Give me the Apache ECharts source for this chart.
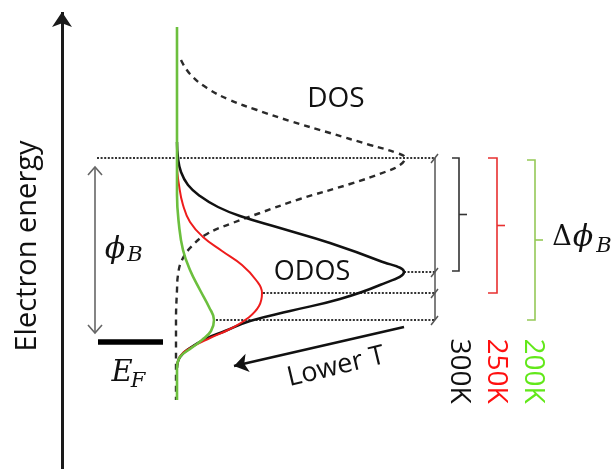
<!DOCTYPE html>
<html>
<head>
<meta charset="utf-8">
<script src="https://cdn.jsdelivr.net/npm/echarts@6/dist/echarts.min.js"></script>
<style>
  html, body { margin: 0; padding: 0; background: #fff; }
  #chart { width: 613px; height: 471px; }
</style>
</head>
<body>
<div id="chart"></div>
<script>
// Units: energy measured upward from the Fermi level (E_F = 0),
// density measured rightward from the zero-density baseline.

// Schottky barrier top (phi_B above E_F)
const barrierEnergy = 184;

// Density of states (dashed), [density, energy]
const dosCurve = [
  [4, 282], [13, 268], [30, 254], [53, 242], [80, 232], [113, 221], [153, 209],
  [193, 197], [220, 189], [228, 184], [223, 177], [208, 170], [173, 158],
  [123, 143], [83, 129], [53, 118], [30, 108], [15, 96], [5, 82], [1, 67],
  [0, 52], [-1, 22], [-1, -58]
];

// Occupied density of states at three temperatures, [density, energy]
const odos300 = [
  [0, 200], [1, 184], [4, 170], [11, 157], [23, 146], [41, 135], [63, 126],
  [103, 114], [153, 99], [203, 81], [227, 70], [203, 57], [163, 43],
  [113, 31], [73, 21], [48, 11], [28, 3], [13, -6], [3, -15], [0, -26]
];
const odos250 = [
  [0, 200], [0, 177], [2, 157], [6, 137], [13, 120], [26, 105], [45, 91],
  [65, 77], [79, 62], [85, 49], [82, 36], [71, 24], [53, 13], [33, 4],
  [15, -5], [4, -13], [0, -24]
];
const odos200 = [
  [0, 315], [0, 170], [0, 147], [2, 117], [6, 92], [13, 72], [23, 52],
  [32, 35], [37, 22], [34, 11], [25, 2], [13, -7], [3, -15], [0, -26],
  [0, -58]
];

// ODOS peak positions [density, energy] for 300K, 250K, 200K
const odosPeaks = [[227, 70], [86, 49], [39, 22]];
const temperatures = ['300K', '250K', '200K'];

const curveColors = ['#111111', '#ee1c1c', '#6cbf3e'];
const labelColors = ['#111111', '#ff1010', '#62e81a'];
const bracketColors = ['#333333', '#e83030', '#95c957'];

const connectorX = 258;          // vertical guide where the levels end
const bracketX = [[275, 282, 290], [311, 320, 328], [350, 358, 366]];

// ----- derived geometry -----
const levelLines = [{ coords: [[-80, barrierEnergy], [connectorX, barrierEnergy]] }]
  .concat(odosPeaks.map(p => ({ coords: [[p[0], p[1]], [connectorX, p[1]]] })));

const levelEnergies = [barrierEnergy].concat(odosPeaks.map(p => p[1]));
const slashes = levelEnergies.map(e => ({
  coords: [[connectorX - 4, e - 5], [connectorX + 3, e + 4]]
}));

const brackets = [];
odosPeaks.forEach((p, i) => {
  const [x0, x1, x2] = bracketX[i];
  const top = i === 2 ? barrierEnergy - 2 : barrierEnergy;
  const bot = p[1] + (i === 0 ? 1 : 0);
  const mid = (top + bot) / 2;
  brackets.push({
    coords: [[x0, top], [x1, top], [x1, bot], [x0, bot]],
    lineStyle: { color: bracketColors[i] }
  });
  brackets.push({
    coords: [[x1, mid], [x2, mid]],
    lineStyle: { color: bracketColors[i] }
  });
});

const chart = echarts.init(document.getElementById('chart'), null, { renderer: 'canvas' });

const serif = "'DejaVu Serif', 'Liberation Serif', serif";
const sans = "'Open Sans', 'Noto Sans', sans-serif";

function txt(text, x, y, size, color, opts) {
  opts = opts || {};
  return {
    type: 'text', x: x, y: y, rotation: opts.rotation || 0, silent: true, z: 20,
    style: {
      text: text, fill: color, fontSize: size,
      fontFamily: opts.family || sans,
      fontStyle: opts.italic ? 'italic' : 'normal',
      align: 'center', verticalAlign: 'middle'
    }
  };
}

const ink = '#111';
const graphics = [
  txt('Electron energy', 28, 246, 29, ink, { rotation: Math.PI / 2 }),
  txt('DOS', 336, 99, 28, ink),
  txt('ODOS', 312, 272, 27, ink),
  txt('Lower T', 336, 367, 27, ink, { rotation: 0.235 }),
  txt('ϕ', 115, 250, 30, ink, { family: serif, italic: true }),
  txt('B', 135, 256, 21, ink, { family: serif, italic: true }),
  txt('E', 122, 373, 29, ink, { family: serif, italic: true }),
  txt('F', 138, 382, 21, ink, { family: serif, italic: true }),
  txt('Δ', 562, 238, 27, ink, { family: serif }),
  txt('ϕ', 583, 238, 30, ink, { family: serif, italic: true }),
  txt('B', 604, 247, 21, ink, { family: serif, italic: true })
];
temperatures.forEach((t, i) => {
  graphics.push(txt(t, 459 + i * 37, 371, 28, labelColors[i], { rotation: -Math.PI / 2 }));
});

function curve(name, data, color, width, z, dash) {
  return {
    name: name, type: 'line', data: data, smooth: 0.45,
    showSymbol: false, silent: true, z: z,
    lineStyle: { color: color, width: width, type: dash || 'solid' }
  };
}

const option = {
  animation: false,
  grid: { left: 0, right: 0, top: 0, bottom: 0 },
  xAxis: { type: 'value', min: -177, max: 436, show: false },
  yAxis: { type: 'value', min: -129, max: 342, show: false },
  graphic: graphics,
  series: [
    {
      name: 'levels', type: 'lines', coordinateSystem: 'cartesian2d', silent: true, z: 1,
      lineStyle: { color: '#333', width: 2.2, type: [2, 1.6], opacity: 1 },
      data: levelLines
    },
    {
      name: 'connector', type: 'lines', coordinateSystem: 'cartesian2d', silent: true, z: 2,
      lineStyle: { color: '#555', width: 1.5, opacity: 1 },
      data: [{ coords: [[connectorX, barrierEnergy], [connectorX, odosPeaks[2][1]]] }].concat(slashes)
    },
    {
      name: 'brackets', type: 'lines', coordinateSystem: 'cartesian2d', polyline: true, silent: true, z: 2,
      lineStyle: { width: 1.6, opacity: 1 },
      data: brackets
    },
    curve('DOS', dosCurve, '#2a2a2a', 2.4, 3, [6, 5]),
    curve(temperatures[0], odos300, curveColors[0], 2.5, 4),
    curve(temperatures[1], odos250, curveColors[1], 2, 5),
    curve(temperatures[2], odos200, curveColors[2], 2.6, 6),
    {
      name: 'axis', type: 'lines', coordinateSystem: 'cartesian2d', silent: true, z: 7,
      symbol: ['none', 'arrow'], symbolSize: 15,
      lineStyle: { color: '#1a1a1a', width: 3, opacity: 1 },
      data: [{ coords: [[-115, -127], [-115, 330]] }]
    },
    {
      name: 'lowerT', type: 'lines', coordinateSystem: 'cartesian2d', silent: true, z: 7,
      symbol: ['none', 'arrow'], symbolSize: 14,
      lineStyle: { color: '#111', width: 2.6, opacity: 1 },
      data: [{ coords: [[227, 15], [57, -24]] }]
    },
    {
      name: 'barrier', type: 'lines', coordinateSystem: 'cartesian2d', polyline: true, silent: true, z: 7,
      lineStyle: { color: '#666', width: 1.6, opacity: 1 },
      data: [
        { coords: [[-82, barrierEnergy - 9], [-82, 9]] },
        { coords: [[-89, barrierEnergy - 17], [-82, barrierEnergy - 9], [-75, barrierEnergy - 17]] },
        { coords: [[-89, 17], [-82, 9], [-75, 17]] }
      ]
    },
    {
      name: 'fermi', type: 'lines', coordinateSystem: 'cartesian2d', silent: true, z: 7,
      lineStyle: { color: '#000', width: 5.5, opacity: 1 },
      data: [{ coords: [[-79, 0], [-14, 0]] }]
    }
  ]
};

chart.setOption(option);
</script>
</body>
</html>
